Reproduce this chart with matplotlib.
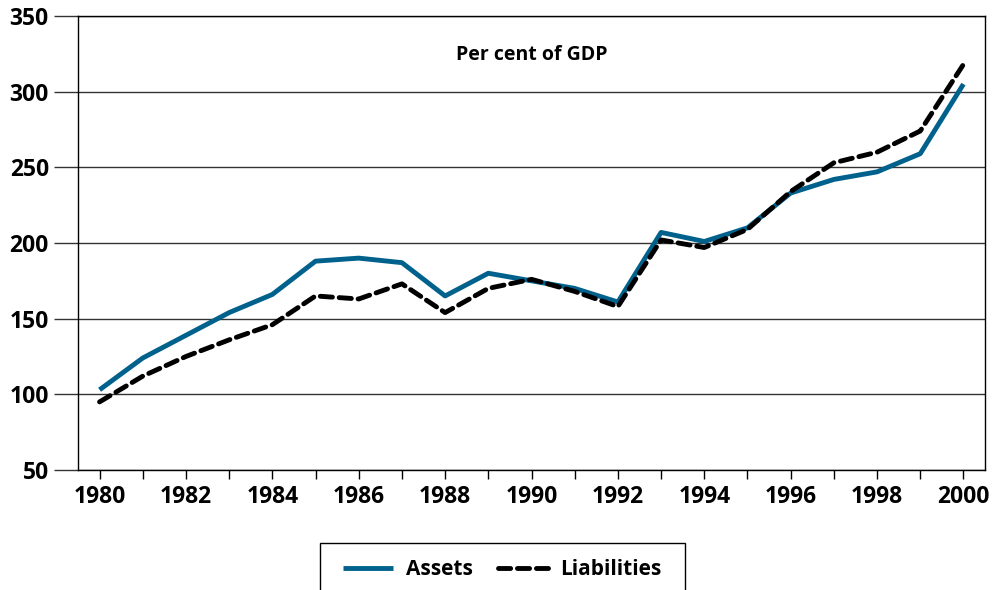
import matplotlib
matplotlib.use("Agg")
import matplotlib.pyplot as plt
from matplotlib.patches import Rectangle

years = list(range(1980, 2001))
assets = [103, 124, 139, 154, 166, 188, 190, 187, 165, 180, 175, 170, 161,
          207, 201, 210, 233, 242, 247, 259, 305]
liabilities = [95, 112, 125, 136, 146, 165, 163, 173, 154, 170, 176, 168, 158,
               202, 197, 209, 234, 253, 260, 274, 318]

y_ticks = [50, 100, 150, 200, 250, 300, 350]
x_labels = list(range(1980, 2001, 2))

ASSET_C = "#00628c"

plt.rcParams["font.family"] = ["Open Sans", "DejaVu Sans"]
plt.rcParams["font.weight"] = "bold"

fig = plt.figure(figsize=(9.97, 5.90), dpi=100)
ax = fig.add_axes([0.0782, 0.2034, 0.9098, 0.7695])

for y in y_ticks:
    ax.axhline(y, color="#333333", lw=1.0, zorder=1)

ax.plot(years, assets, color=ASSET_C, lw=3.5, label="Assets", zorder=3,
        solid_capstyle="butt")
ax.plot(years, liabilities, color="black", lw=3.5, ls=(0, (2.5, 1.4)),
        label="Liabilities", zorder=4, dash_capstyle="round")

ax.set_xlim(1979.5, 2000.5)
ax.set_ylim(50, 350)
ax.set_yticks(y_ticks)
ax.set_xticks(years)
ax.set_xticklabels([str(y) if y in x_labels else "" for y in years])

ax.tick_params(axis="y", length=17, width=1.0, color="#333333", pad=4,
               labelsize=16.5)
ax.tick_params(axis="x", length=6.5, width=1.0, pad=4, labelsize=16.5)
for lab in ax.get_xticklabels() + ax.get_yticklabels():
    lab.set_fontweight("bold")

for s in ax.spines.values():
    s.set_linewidth(1.0)
    s.set_color("black")

ax.text(0.5, 0.915, "Per cent of GDP", transform=ax.transAxes, ha="center",
        va="center", fontsize=14, fontweight="bold")

# legend box running off the bottom edge
fig.patches.append(Rectangle((0.321, -0.05), 0.366, 0.1297,
                             transform=fig.transFigure, fill=False,
                             edgecolor="black", lw=1.0))
leg = fig.legend(loc="center", bbox_to_anchor=(0.504, 0.035), ncol=2,
                 frameon=False, fontsize=15, handlelength=2.4,
                 columnspacing=1.2, handletextpad=0.6)
for t in leg.get_texts():
    t.set_fontweight("bold")

fig.savefig("out.png", dpi=100)
